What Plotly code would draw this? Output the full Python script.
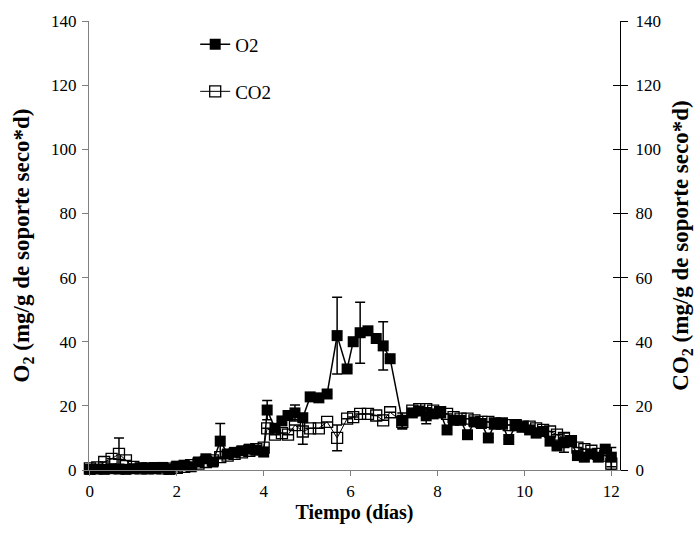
import plotly.graph_objects as go

# Sampling times (days)
time_d = [0.00, 0.17, 0.33, 0.50, 0.67, 0.83, 1.00, 1.17, 1.33, 1.50, 1.67, 1.83,
          2.00, 2.17, 2.33, 2.50, 2.67, 2.83, 3.00, 3.17, 3.33, 3.50, 3.67, 3.83,
          4.00, 4.08, 4.26, 4.42, 4.56, 4.72, 4.90, 5.07, 5.27, 5.46, 5.69, 5.92,
          6.06, 6.22, 6.40, 6.59, 6.75, 6.91, 7.19, 7.42, 7.58, 7.74, 7.90, 8.06,
          8.22, 8.37, 8.53, 8.69, 8.85, 9.01, 9.17, 9.32, 9.48, 9.64, 9.80, 9.96,
          10.12, 10.27, 10.43, 10.59, 10.75, 10.91, 11.07, 11.22, 11.38, 11.54,
          11.70, 11.86, 12.00]

# O2 consumption rate (mg/g dry support * d)
o2_rate = [0.2, 0.3, 0.2, 0.4, 0.3, 0.2, 0.4, 0.6, 0.5, 0.7, 0.8, 0.2,
           1.2, 1.5, 1.0, 2.5, 3.5, 2.5, 9.0, 5.0, 5.5, 6.0, 6.5, 6.2,
           5.6, 18.7, 13.0, 15.3, 17.0, 17.8, 16.3, 22.8, 22.5, 23.7, 41.9, 31.5,
           40.0, 42.8, 43.4, 41.0, 38.7, 34.7, 15.3, 17.8, 18.4, 16.9, 17.5, 18.0,
           12.5, 15.5, 15.5, 11.0, 15.0, 14.5, 10.0, 14.5, 14.5, 9.5, 14.0, 13.5,
           12.5, 11.5, 12.0, 9.0, 7.5, 8.5, 9.0, 4.5, 4.0, 5.0,
           4.0, 6.5, 4.0]

# CO2 production rate (mg/g dry support * d)
co2_rate = [0.5, 0.8, 2.5, 3.5, 5.0, 3.0, 1.0, 0.5, 0.5, 0.6, 0.5, 0.4,
            0.7, 1.0, 1.5, 2.0, 2.5, 3.0, 4.0, 4.5, 5.0, 5.5, 6.0, 6.5,
            7.0, 13.0, 11.0, 11.5, 11.0, 14.0, 12.0, 13.0, 13.0, 15.0, 10.0, 16.0,
            16.5, 17.5, 17.5, 17.0, 15.5, 18.0, 15.0, 18.5, 19.0, 19.0, 18.5, 18.0,
            17.5, 16.5, 16.0, 16.0, 15.5, 15.0, 15.0, 14.5, 14.5, 14.0, 14.0, 13.5,
            13.5, 13.0, 12.5, 12.0, 11.0, 10.0, 9.0, 7.0, 6.5, 6.0,
            5.0, 4.5, 2.0]

# Standard deviations where error bars are shown (time -> sd)
o2_sd = {3.00: 5.5, 4.08: 3.0, 4.72: 2.5, 5.69: 12.0, 6.22: 9.5, 6.75: 7.5,
         7.19: 2.5, 7.74: 2.5, 10.91: 3.0, 12.00: 3.0}
co2_sd = {0.67: 5.0, 4.90: 4.0, 5.69: 4.0, 7.19: 2.0, 12.00: 2.0}

x_ticks = [0, 2, 4, 6, 8, 10, 12]
y_ticks = [0, 20, 40, 60, 80, 100, 120, 140]

o2_err = [o2_sd.get(t, 0) for t in time_d]
co2_err = [co2_sd.get(t, 0) for t in time_d]

SERIF = "Liberation Serif"

fig = go.Figure()

fig.add_trace(go.Scatter(
    x=time_d, y=co2_rate, name="CO2", mode="lines+markers",
    line=dict(color="black", width=1),
    marker=dict(symbol="square-open", size=11, color="black",
                line=dict(color="black", width=1.3)),
    error_y=dict(type="data", array=co2_err, visible=True,
                 color="black", thickness=1.5, width=5),
    cliponaxis=False, legend="legend2",
))

fig.add_trace(go.Scatter(
    x=time_d, y=o2_rate, name="O2", mode="lines+markers",
    line=dict(color="black", width=1.5),
    marker=dict(symbol="square", size=11, color="black"),
    error_y=dict(type="data", array=o2_err, visible=True,
                 color="black", thickness=1.5, width=5),
    cliponaxis=False, legend="legend",
))

# Secondary (right) axis carrying the CO2 scale; a second overlay gives the
# inward half of its crossing ticks
fig.add_trace(go.Scatter(x=[None], y=[None], yaxis="y2", showlegend=False,
                         hoverinfo="skip"))
fig.add_trace(go.Scatter(x=[None], y=[None], yaxis="y3", showlegend=False,
                         hoverinfo="skip"))

legend_common = dict(font=dict(family=SERIF, size=19, color="black"),
                     bgcolor="rgba(0,0,0,0)", borderwidth=0,
                     xanchor="left", yanchor="middle")

fig.update_layout(
    width=696, height=549,
    margin=dict(l=89, r=76, t=21, b=79, autoexpand=False),
    paper_bgcolor="white", plot_bgcolor="white",
    font=dict(family=SERIF, size=17, color="black"),
    showlegend=True,
    legend=dict(x=0.2, y=0.948, **legend_common),
    legend2=dict(x=0.2, y=0.843, **legend_common),
    xaxis=dict(
        range=[-0.02, 12.2], tickvals=x_ticks, ticks="outside", ticklen=5,
        tickcolor="#808080", showline=True, linecolor="#808080", linewidth=1.3,
        showgrid=False, zeroline=False, automargin=False,
        tickfont=dict(family=SERIF, size=17),
        title=dict(text="<b>Tiempo (días)</b>",
                   font=dict(family=SERIF, size=20), standoff=2),
    ),
    yaxis=dict(
        range=[0, 140], tickvals=y_ticks, ticks="outside", ticklen=6,
        tickcolor="#808080", showline=True, linecolor="#808080", linewidth=1.3,
        showgrid=False, zeroline=False, ticklabelstandoff=2, automargin=False,
        tickfont=dict(family=SERIF, size=17),
        title=dict(text="<b>O<sub>2</sub> (mg/g de soporte seco*d)</b>",
                   font=dict(family=SERIF, size=23), standoff=14),
    ),
    yaxis2=dict(
        range=[0, 140], tickvals=y_ticks, overlaying="y", side="right",
        anchor="x", ticks="outside", ticklen=7, tickcolor="black",
        showline=True, linecolor="black", linewidth=1.3,
        showgrid=False, zeroline=False, ticklabelstandoff=4, automargin=False,
        tickfont=dict(family=SERIF, size=17),
        title=dict(text="<b>CO<sub>2</sub> (mg/g de soporte seco*d)</b>",
                   font=dict(family=SERIF, size=23), standoff=18),
    ),
    yaxis3=dict(
        range=[0, 140], tickvals=y_ticks, overlaying="y", side="right",
        anchor="x", ticks="inside", ticklen=7, tickcolor="black",
        showline=False, showticklabels=False, showgrid=False, zeroline=False,
        automargin=False,
    ),
)

fig.write_html("out.html")
